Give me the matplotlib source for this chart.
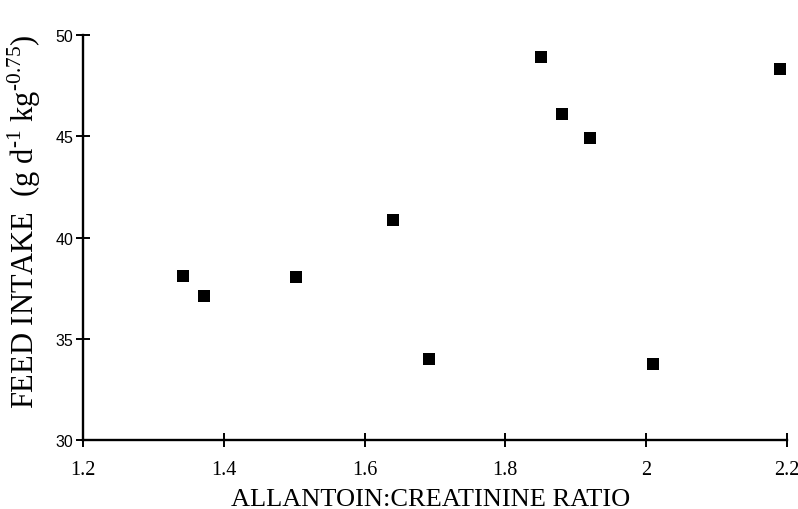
import matplotlib
matplotlib.use("Agg")
import matplotlib.pyplot as plt

# Allantoin:creatinine ratio vs feed intake
ratio = [1.342, 1.372, 1.502, 1.641, 1.691, 1.851, 1.881, 1.921, 2.010, 2.191]
intake = [38.1, 37.12, 38.05, 40.86, 34.0, 48.92, 46.12, 44.93, 33.75, 48.33]

x_ticks = [1.2, 1.4, 1.6, 1.8, 2.0, 2.2]
x_tick_labels = ["1.2", "1.4", "1.6", "1.8", "2", "2.2"]
y_ticks = [30, 35, 40, 45, 50]

plt.rcParams["mathtext.fontset"] = "custom"
plt.rcParams["mathtext.rm"] = "Liberation Serif"

fig = plt.figure(figsize=(7.98, 5.10), dpi=100)
ax = fig.add_axes([0.104, 0.135, 0.882, 0.794])

ax.plot(ratio, intake, linestyle="none", marker="s", markersize=9.0,
        color="black", markeredgewidth=0)

ax.set_xlim(1.2, 2.2)
ax.set_ylim(30, 50)
ax.set_xticks(x_ticks)
ax.set_xticklabels(x_tick_labels, family="Liberation Serif", fontsize=14.5)
ax.set_yticks(y_ticks)
ax.set_yticklabels([str(v) for v in y_ticks], family="Liberation Sans", fontsize=11.5)

for side in ("top", "right"):
    ax.spines[side].set_visible(False)
for side in ("left", "bottom"):
    ax.spines[side].set_linewidth(1.7)

ax.tick_params(axis="both", direction="inout", length=10, width=1.4, color="black")
ax.tick_params(axis="x", pad=9)
ax.tick_params(axis="y", pad=2)

fig.text(0.54, 0.02, "ALLANTOIN:CREATININE RATIO", family="Liberation Serif",
         fontsize=19, ha="center", va="center")
fig.text(34 / 798, 1 - 222 / 510,
         "FEED INTAKE  (g d$^{\\mathregular{\u20101}}$ kg$^{\\mathregular{\u20100.75}}$)",
         family="Liberation Serif", fontsize=22, rotation=90,
         rotation_mode="anchor", ha="center", va="baseline")

fig.savefig("out.png", dpi=100, facecolor="white")
